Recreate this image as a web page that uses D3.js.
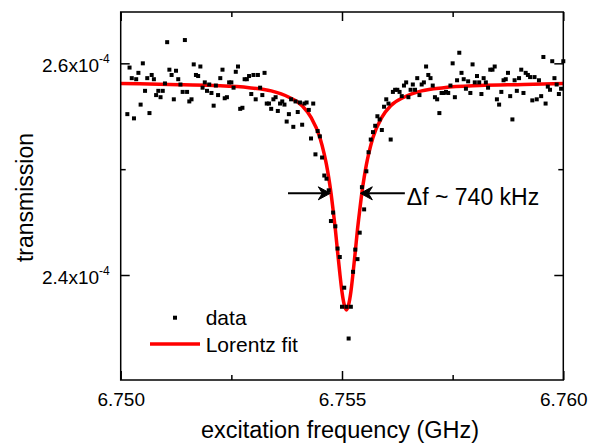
<!DOCTYPE html>
<html>
<head>
<meta charset="utf-8">
<script src="https://cdn.jsdelivr.net/npm/d3@7"></script>
<style>
  body { margin: 0; background: #fff; }
  text { font-family: "Liberation Sans", Arial, sans-serif; fill: #000; }
</style>
</head>
<body>
<div id="chart"></div>
<script>
// measured transmission (x1e-4) vs excitation frequency (GHz)
const freq = [
  6.75015, 6.75020, 6.75025, 6.75030, 6.75035, 6.75040, 6.75045, 6.75050, 6.75055, 6.75060,
  6.75065, 6.75070, 6.75075, 6.75080, 6.75085, 6.75090, 6.75095, 6.75100, 6.75105, 6.75110,
  6.75115, 6.75120, 6.75125, 6.75130, 6.75135, 6.75140, 6.75145, 6.75150, 6.75155, 6.75160,
  6.75165, 6.75170, 6.75175, 6.75180, 6.75185, 6.75190, 6.75195, 6.75200, 6.75205, 6.75210,
  6.75215, 6.75220, 6.75225, 6.75230, 6.75235, 6.75240, 6.75245, 6.75250, 6.75255, 6.75260,
  6.75265, 6.75270, 6.75275, 6.75280, 6.75285, 6.75290, 6.75295, 6.75300, 6.75305, 6.75310,
  6.75315, 6.75320, 6.75325, 6.75330, 6.75335, 6.75340, 6.75345, 6.75350, 6.75355, 6.75360,
  6.75365, 6.75370, 6.75375, 6.75380, 6.75385, 6.75390, 6.75395, 6.75400, 6.75405, 6.75410,
  6.75415, 6.75420, 6.75425, 6.75430, 6.75435, 6.75440, 6.75445, 6.75450, 6.75455, 6.75460,
  6.75465, 6.75470, 6.75475, 6.75480, 6.75485, 6.75490, 6.75495, 6.75500, 6.75505, 6.75510,
  6.75515, 6.75520, 6.75525, 6.75530, 6.75535, 6.75540, 6.75545, 6.75550, 6.75555, 6.75560,
  6.75565, 6.75570, 6.75575, 6.75580, 6.75585, 6.75590, 6.75595, 6.75600, 6.75605, 6.75610,
  6.75615, 6.75620, 6.75625, 6.75630, 6.75635, 6.75640, 6.75645, 6.75650, 6.75655, 6.75660,
  6.75665, 6.75670, 6.75675, 6.75680, 6.75685, 6.75690, 6.75695, 6.75700, 6.75705, 6.75710,
  6.75715, 6.75720, 6.75725, 6.75730, 6.75735, 6.75740, 6.75745, 6.75750, 6.75755, 6.75760,
  6.75765, 6.75770, 6.75775, 6.75780, 6.75785, 6.75790, 6.75795, 6.75800, 6.75805, 6.75810,
  6.75815, 6.75820, 6.75825, 6.75830, 6.75835, 6.75840, 6.75845, 6.75850, 6.75855, 6.75860,
  6.75865, 6.75870, 6.75875, 6.75880, 6.75885, 6.75890, 6.75895, 6.75900, 6.75905, 6.75910,
  6.75915, 6.75920, 6.75925, 6.75930, 6.75935, 6.75940, 6.75945, 6.75950, 6.75955, 6.75960,
  6.75965, 6.75970, 6.75975, 6.75980, 6.75985, 6.75990, 6.75995, 6.76000
];
const transmission = [
  2.552, 2.596, 2.586, 2.548, 2.585, 2.591, 2.561, 2.600, 2.574, 2.586,
  2.553, 2.589, 2.585, 2.570, 2.574, 2.568, 2.574, 2.581, 2.620, 2.594,
  2.589, 2.566, 2.593, 2.585, 2.580, 2.573, 2.622, 2.573, 2.564, 2.566,
  2.599, 2.589, 2.588, 2.597, 2.577, 2.582, 2.574, 2.580, 2.572, 2.560,
  2.579, 2.570, 2.586, 2.594, 2.567, 2.568, 2.582, 2.582, 2.577, 2.592,
  2.597, 2.557, 2.558, 2.585, 2.585, 2.588, 2.571, 2.589, 2.566, 2.589,
  2.577, 2.570, 2.591, 2.562, 2.562, 2.557, 2.566, 2.568, 2.555, 2.562,
  2.564, 2.561, 2.545, 2.552, 2.566, 2.540, 2.564, 2.554, 2.563, 2.542,
  2.562, 2.563, 2.556, 2.529, 2.562, 2.514, 2.536, 2.531, 2.511, 2.494,
  2.491, 2.480, 2.451, 2.459, 2.446, 2.425, 2.417, 2.370, 2.388, 2.370,
  2.340, 2.370, 2.403, 2.424, 2.415, 2.440, 2.483, 2.462, 2.498, 2.516,
  2.528, 2.535, 2.541, 2.550, 2.547, 2.537, 2.559, 2.566, 2.562, 2.528,
  2.573, 2.575, 2.575, 2.573, 2.569, 2.579, 2.582, 2.568, 2.575, 2.580,
  2.575, 2.586, 2.570, 2.580, 2.582, 2.597, 2.589, 2.586, 2.579, 2.568,
  2.566, 2.553, 2.572, 2.572, 2.573, 2.572, 2.579, 2.600, 2.568, 2.584,
  2.610, 2.591, 2.585, 2.576, 2.583, 2.572, 2.599, 2.582, 2.588, 2.582,
  2.571, 2.586, 2.582, 2.577, 2.594, 2.594, 2.597, 2.566, 2.561, 2.573,
  2.584, 2.585, 2.591, 2.569, 2.547, 2.584, 2.574, 2.586, 2.594, 2.572,
  2.591, 2.589, 2.587, 2.565, 2.587, 2.566, 2.584, 2.569, 2.606, 2.562,
  2.578, 2.575, 2.602, 2.586, 2.580, 2.571, 2.576, 2.602
];

// Lorentz fit curve
const fitFreq = [
  6.75000, 6.75110, 6.75210, 6.75290, 6.75340, 6.75380, 6.75410, 6.75430, 6.75450, 6.75460,
  6.75465, 6.75470, 6.75475, 6.75480, 6.75485, 6.75490, 6.75495, 6.75500, 6.75505, 6.75510,
  6.75515, 6.75520, 6.75525, 6.75530, 6.75535, 6.75540, 6.75545, 6.75550, 6.75555, 6.75560,
  6.75570, 6.75590, 6.75610, 6.75640, 6.75680, 6.75730, 6.75810, 6.75910, 6.76000
];
const fitTransmission = [
  2.581, 2.580, 2.579, 2.577, 2.574, 2.568, 2.560, 2.549, 2.530, 2.514,
  2.504, 2.492, 2.478, 2.461, 2.443, 2.422, 2.402, 2.384, 2.372, 2.367,
  2.372, 2.384, 2.402, 2.422, 2.443, 2.461, 2.478, 2.492, 2.504, 2.514,
  2.530, 2.549, 2.560, 2.568, 2.574, 2.577, 2.579, 2.580, 2.581
];

const xMajorTicks = [6.750, 6.755, 6.760];
const xMinorTicks = [6.7525, 6.7575];
const xTickLabels = ["6.750", "6.755", "6.760"];
const yMajorTicks = [2.4, 2.6];
const yMinorTicks = [2.5];
const yTickLabels = ["2.4x10", "2.6x10"];
const yTickExponent = "-4";

// linewidth annotation
const arrowTips = [6.754736, 6.755414];
const arrowTails = [6.75378, 6.75642];
const arrowLevel = 2.4772;
const widthLabel = "\u0394f ~ 740 kHz";

const width = 597;
const height = 445;
const margin = { top: 12, right: 33.7, bottom: 65, left: 120.7 };
const plotW = width - margin.left - margin.right;
const plotH = height - margin.top - margin.bottom;

const svg = d3.select("#chart").append("svg")
  .attr("width", width)
  .attr("height", height);

const g = svg.append("g")
  .attr("transform", `translate(${margin.left}, ${margin.top})`);

const x = d3.scaleLinear().domain([6.750, 6.760]).range([0, plotW]);
const y = d3.scaleLinear().domain([2.3008, 2.6485]).range([plotH, 0]);

const data = freq.map(function (f, i) { return { f: f, t: transmission[i] }; });
const fit = fitFreq.map(function (f, i) { return { f: f, t: fitTransmission[i] }; });

// axes with inward ticks on all four sides
const styleAxis = function (sel) {
  sel.select(".domain").remove();
  sel.selectAll(".tick line").attr("stroke", "#000").attr("stroke-width", 1.5);
};

g.append("g").attr("transform", `translate(0, ${plotH})`)
  .call(d3.axisBottom(x).tickValues(xMajorTicks).tickSize(-9).tickPadding(13)
    .tickFormat(function (d, i) { return xTickLabels[i]; }))
  .call(styleAxis)
  .selectAll("text").style("font-size", "19px").style("font-family", "'Liberation Sans', Arial, sans-serif");

g.append("g").attr("transform", `translate(0, ${plotH})`)
  .call(d3.axisBottom(x).tickValues(xMinorTicks).tickSize(-5).tickFormat(""))
  .call(styleAxis);

g.append("g")
  .call(d3.axisTop(x).tickValues(xMajorTicks).tickSize(-9).tickFormat(""))
  .call(styleAxis);

g.append("g")
  .call(d3.axisTop(x).tickValues(xMinorTicks).tickSize(-5).tickFormat(""))
  .call(styleAxis);

const yAxisG = g.append("g")
  .call(d3.axisLeft(y).tickValues(yMajorTicks).tickSize(-9).tickPadding(11)
    .tickFormat(function (d, i) { return yTickLabels[i]; }))
  .call(styleAxis);

yAxisG.selectAll(".tick text")
  .style("font-size", "19px")
  .style("font-family", "'Liberation Sans', Arial, sans-serif")
  .attr("dy", "0.44em")
  .append("tspan")
  .attr("dy", -9)
  .style("font-size", "12px")
  .text(yTickExponent);

g.append("g")
  .call(d3.axisLeft(y).tickValues(yMinorTicks).tickSize(-5).tickFormat(""))
  .call(styleAxis);

g.append("g").attr("transform", `translate(${plotW}, 0)`)
  .call(d3.axisRight(y).tickValues(yMajorTicks).tickSize(-9).tickFormat(""))
  .call(styleAxis);

g.append("g").attr("transform", `translate(${plotW}, 0)`)
  .call(d3.axisRight(y).tickValues(yMinorTicks).tickSize(-5).tickFormat(""))
  .call(styleAxis);

// fit line
const line = d3.line()
  .x(function (d) { return x(d.f); })
  .y(function (d) { return y(d.t); })
  .curve(d3.curveMonotoneX);

g.append("path")
  .datum(fit)
  .attr("fill", "none")
  .attr("stroke", "#ff0000")
  .attr("stroke-width", 3.5)
  .attr("stroke-linejoin", "round")
  .attr("d", line);

// data squares
g.selectAll(".pt")
  .data(data)
  .enter()
  .append("rect")
  .attr("class", "pt")
  .attr("x", function (d) { return x(d.f) - 2; })
  .attr("y", function (d) { return y(d.t) - 2; })
  .attr("width", 4)
  .attr("height", 4)
  .attr("fill", "#000");

// frame
g.append("rect")
  .attr("width", plotW)
  .attr("height", plotH)
  .attr("fill", "none")
  .attr("stroke", "#000")
  .attr("stroke-width", 1.5);

// FWHM arrows
const ay = y(arrowLevel);
arrowTips.forEach(function (tip, i) {
  let tx = x(tip);
  let dir = i === 0 ? 1 : -1;
  g.append("line")
    .attr("x1", x(arrowTails[i]))
    .attr("x2", tx - dir * 6)
    .attr("y1", ay)
    .attr("y2", ay)
    .attr("stroke", "#000")
    .attr("stroke-width", 2);
  g.append("path")
    .attr("d", `M${tx},${ay} L${tx - dir * 12},${ay - 6.5} L${tx - dir * 8},${ay} L${tx - dir * 12},${ay + 6.5} Z`)
    .attr("fill", "#000")
    .attr("stroke", "#000")
    .attr("stroke-width", 1)
    .attr("stroke-linejoin", "round");
});

g.append("text")
  .attr("x", x(arrowTails[1]) + 2)
  .attr("y", ay + 12)
  .style("font-size", "23px")
  .text(widthLabel);

// legend
const legend = svg.append("g");
legend.append("rect")
  .attr("x", 173).attr("y", 315.7)
  .attr("width", 4).attr("height", 4)
  .attr("fill", "#000");
legend.append("text")
  .attr("x", 205.7).attr("y", 325)
  .style("font-size", "21px")
  .text("data");
legend.append("line")
  .attr("x1", 150).attr("x2", 200)
  .attr("y1", 344).attr("y2", 344)
  .attr("stroke", "#ff0000")
  .attr("stroke-width", 3.5);
legend.append("text")
  .attr("x", 205.7).attr("y", 352)
  .style("font-size", "21px")
  .text("Lorentz fit");

// axis titles
svg.append("text")
  .attr("x", 340)
  .attr("y", 438)
  .attr("text-anchor", "middle")
  .style("font-size", "23.5px")
  .text("excitation frequency (GHz)");

svg.append("text")
  .attr("transform", "translate(33, 197.5) rotate(-90)")
  .attr("text-anchor", "middle")
  .style("font-size", "23px")
  .text("transmission");
</script>
</body>
</html>
